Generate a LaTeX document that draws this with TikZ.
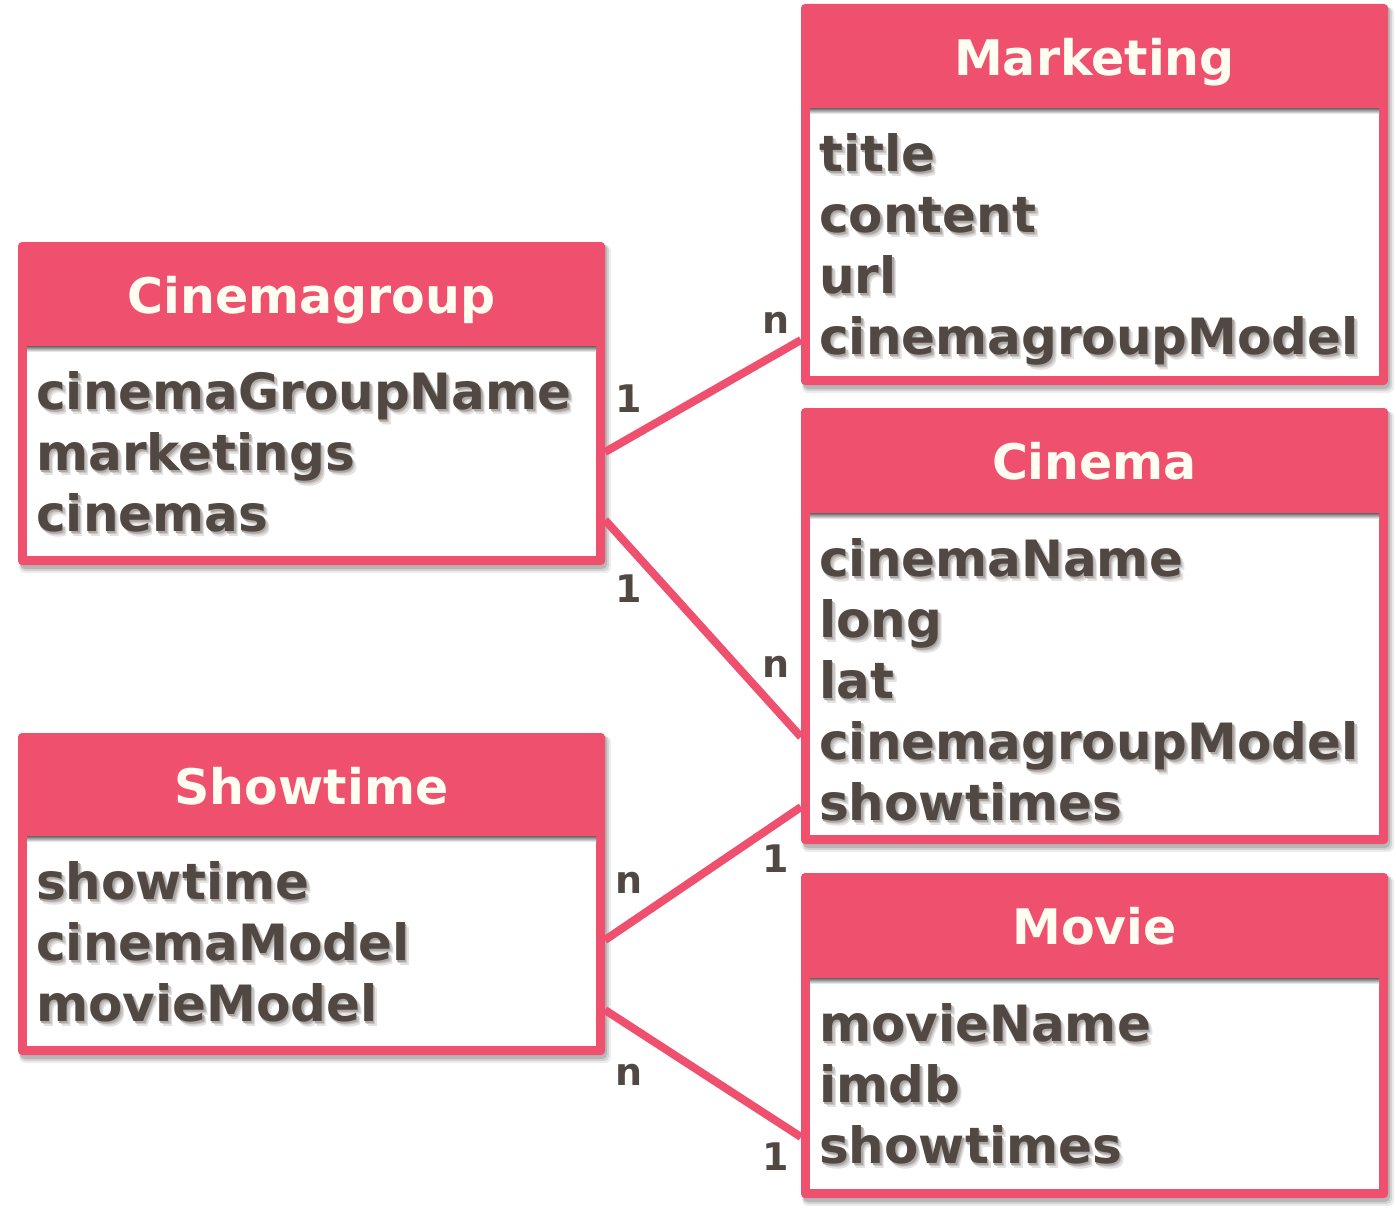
\documentclass[tikz,border=0pt]{standalone}
\usepackage{fontspec}
\setmainfont{DejaVu Sans}
\usetikzlibrary{calc}
\definecolor{pinkc}{HTML}{EF506E}
\definecolor{txtc}{HTML}{514843}
\definecolor{ttlc}{HTML}{FFFEF0}
\definecolor{tshA}{HTML}{ACA7A4}
\definecolor{tshB}{HTML}{C9C5C3}
\definecolor{tshC}{HTML}{E4E2E1}
\pgfdeclarelayer{bg}
\pgfsetlayers{bg,main}
\newcommand\shtext[1]{\leavevmode
  \rlap{\hspace{4pt}\raisebox{-5pt}{\color{tshC}#1}}%
  \rlap{\hspace{2.8pt}\raisebox{-3.6pt}{\color{tshB}#1}}%
  \rlap{\hspace{1.6pt}\raisebox{-2.2pt}{\color{tshA}#1}}#1}
\tikzset{
  ebox/.style={rectangle, fill=pinkc, rounded corners=4pt, inner sep=0pt, outer sep=0pt},
  ttl/.style={anchor=base, inner sep=0pt, text=ttlc, font=\fontsize{49}{59}\selectfont\bfseries},
  attr/.style={anchor=base west, inner sep=0pt, text=txtc, font=\fontsize{50}{60}\selectfont\bfseries},
  lbl/.style={anchor=base, inner sep=0pt, text=txtc, font=\fontsize{38}{46}\selectfont\bfseries},
  conn/.style={draw=pinkc, line width=8pt}
}
% #1 name, #2 x1, #3 y1, #4 x2, #5 y2, #6 header bottom, #7 title, #8 attributes
\newcommand\entity[8]{%
  \begin{pgfonlayer}{bg}
    \fill[black,opacity=0.07,rounded corners=6pt] (#2+1,#3+3) rectangle (#4+6,#5+8);
    \fill[black,opacity=0.10,rounded corners=5pt] (#2+2,#3+3) rectangle (#4+4,#5+6);
    \fill[black,opacity=0.14,rounded corners=5pt] (#2+2,#3+2) rectangle (#4+2,#5+4);
  \end{pgfonlayer}
  \node[ebox, minimum width={#4-#2}, minimum height={#5-#3}] (#1) at ({(#2+#4)/2},{(#3+#5)/2}) {};
  \fill[white] (#2+9,#6) rectangle (#4-9,#5-9);
  \shade[top color=black!60, bottom color=white] (#2+9,#6) rectangle (#4-9,#6+6);
  \node[ttl] (#1-t) at ({(#2+#4)/2},#3+71) {#7};
  \foreach \a [count=\i] in {#8} {
    \node[attr] (#1-a\i) at (#2+18,{#6+63+61*(\i-1)}) {\shtext{\a}};
  }
}
\begin{document}
\begin{tikzpicture}[x=1pt,y=-1pt]
\begin{pgfonlayer}{bg}
  \fill[white] (0,0) rectangle (1396,1215);
\end{pgfonlayer}
\useasboundingbox (0,0) rectangle (1396,1215);

\entity{cg}{18}{242}{605}{565}{346}{Cinemagroup}{cinemaGroupName,marketings,cinemas}
\entity{st}{18}{733}{605}{1055}{836}{Showtime}{showtime,cinemaModel,movieModel}
\entity{mk}{801}{4}{1388}{385}{108}{Marketing}{title,content,url,cinemagroupModel}
\entity{ci}{801}{408}{1388}{844}{513}{Cinema}{cinemaName,long,lat,cinemagroupModel,showtimes}
\entity{mv}{801}{873}{1388}{1198}{978}{Movie}{movieName,imdb,showtimes}

\begin{pgfonlayer}{bg}
  \draw[conn] ($(cg.north east)+(0,210)$) -- ($(mk.north west)+(0,336)$);
  \draw[conn] ($(cg.north east)+(0,278)$) -- ($(ci.north west)+(0,329)$);
  \draw[conn] ($(st.north east)+(0,207)$) -- ($(ci.north west)+(0,399)$);
  \draw[conn] ($(st.north east)+(0,277)$) -- ($(mv.north west)+(0,264)$);
\end{pgfonlayer}

\node[lbl] (l1) at (629,412) {1};
\node[lbl] (l2) at (776,333) {n};
\node[lbl] (l3) at (629,602) {1};
\node[lbl] (l4) at (776,677) {n};
\node[lbl] (l5) at (629,893) {n};
\node[lbl] (l6) at (776,872) {1};
\node[lbl] (l7) at (629,1085) {n};
\node[lbl] (l8) at (776,1170) {1};
\end{tikzpicture}
\end{document}
